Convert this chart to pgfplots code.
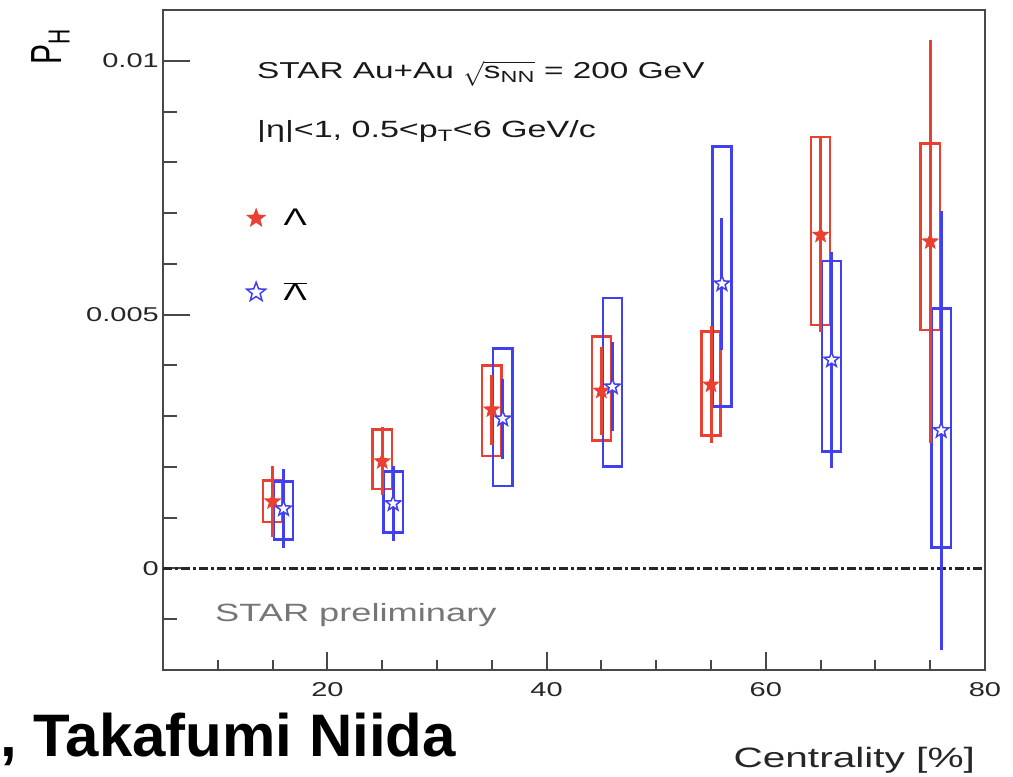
\documentclass[border=0pt]{standalone}
\usepackage{graphicx}
\usepackage{pgfplots}
\pgfplotsset{compat=1.18}
\usepackage{pgfplotstable}
\usepackage{fontspec}
\setmainfont{Liberation Sans}[FakeStretch=1.45]
\newfontfamily\plainsans{Liberation Sans}

\definecolor{lamred}{RGB}{234,64,50}
\definecolor{lamblue}{RGB}{64,64,242}
\definecolor{framegray}{RGB}{72,72,72}
\definecolor{prelimgray}{RGB}{118,118,118}

% five-pointed star plot mark
\pgfdeclareplotmark{starfive}{%
  \pgfpathmoveto{\pgfpointpolar{90}{\pgfplotmarksize}}%
  \pgfpathlineto{\pgfpointpolar{126}{0.42\pgfplotmarksize}}%
  \pgfpathlineto{\pgfpointpolar{162}{\pgfplotmarksize}}%
  \pgfpathlineto{\pgfpointpolar{198}{0.42\pgfplotmarksize}}%
  \pgfpathlineto{\pgfpointpolar{234}{\pgfplotmarksize}}%
  \pgfpathlineto{\pgfpointpolar{270}{0.42\pgfplotmarksize}}%
  \pgfpathlineto{\pgfpointpolar{306}{\pgfplotmarksize}}%
  \pgfpathlineto{\pgfpointpolar{342}{0.42\pgfplotmarksize}}%
  \pgfpathlineto{\pgfpointpolar{18}{\pgfplotmarksize}}%
  \pgfpathlineto{\pgfpointpolar{54}{0.42\pgfplotmarksize}}%
  \pgfpathclose
  \pgfusepathqfillstroke
}

% Lambda: centrality, P_H, stat. error, syst. band low/high
\pgfplotstableread{
x   y        stat     slo      shi
15  0.00132  0.00070  0.00091  0.00173
25  0.00211  0.00067  0.00156  0.00274
35  0.00313  0.00069  0.00222  0.00400
45  0.00350  0.00087  0.00252  0.00457
55  0.00362  0.00115  0.00262  0.00467
65  0.00657  0.00191  0.00480  0.00850
75  0.00644  0.00396  0.00470  0.00837
}\lambdadata

% anti-Lambda (shifted by +1 in centrality for visibility)
\pgfplotstableread{
x   y        stat     slo      shi
16  0.00118  0.00078  0.00057  0.00171
26  0.00128  0.00074  0.00071  0.00191
36  0.00295  0.00079  0.00163  0.00433
46  0.00358  0.00088  0.00201  0.00533
56  0.00561  0.00130  0.00319  0.00831
66  0.00411  0.00213  0.00230  0.00606
76  0.00272  0.00433  0.00041  0.00512
}\antilambdadata

\pgfplotsset{
  systred/.style={lamred, line width=2.4pt, forget plot},
  systblue/.style={lamblue, line width=2.4pt, forget plot},
}

% open rectangles for the systematic uncertainties, one per table row
\newcommand\systboxes[2]{%
  \pgfplotstablegetrowsof{#1}%
  \pgfmathtruncatemacro\lastrow{\pgfplotsretval-1}%
  \pgfplotsforeachungrouped \boxrow in {0,...,\lastrow}{%
    \pgfplotstablegetelem{\boxrow}{x}\of{#1}%
    \pgfmathsetmacro\boxleft{\pgfplotsretval-0.88}%
    \pgfmathsetmacro\boxright{\pgfplotsretval+0.88}%
    \pgfplotstablegetelem{\boxrow}{slo}\of{#1}\let\boxlow\pgfplotsretval
    \pgfplotstablegetelem{\boxrow}{shi}\of{#1}\let\boxhigh\pgfplotsretval
    \edef\drawbox{\noexpand\addplot[#2] coordinates
      {(\boxleft,\boxlow) (\boxright,\boxlow) (\boxright,\boxhigh) (\boxleft,\boxhigh)} -- cycle;}%
    \drawbox
  }%
}

\begin{document}
\begin{tikzpicture}
\useasboundingbox (0pt,0pt) rectangle (1013pt,777pt);

\begin{axis}[
  at={(163pt,107pt)}, anchor=south west,
  scale only axis, width=822pt, height=660pt,
  xmin=5, xmax=80, ymin=-0.002, ymax=0.011,
  axis line style={framegray, line width=2.5pt},
  tick align=inside,
  tick style={framegray, line width=2pt},
  /pgf/number format/assume math mode=true,
  xtick={20,40,60,80},
  minor xtick={10,15,25,30,35,45,50,55,65,70,75},
  ytick=\empty, xtick pos=left,
  major tick length=18pt, minor tick length=10pt,
  xticklabel style={font=\fontsize{20}{24}\selectfont, color=black!85, yshift=-9pt},
  xlabel={Centrality [\%]},
  xlabel style={at={(axis description cs:0.988,0)}, anchor=east, inner sep=0pt,
    yshift=-90pt, font=\fontsize{28}{32}\selectfont, color=black!85},
  ylabel={\plainsans\fontsize{30}{34}\selectfont\scalebox{1}[1.45]{P\textsubscript{H}}},
  ylabel style={at={(axis description cs:-0.137,0.944)}, anchor=center, inner sep=0pt},
  legend style={draw=none, fill=none, at={(axis description cs:0.1015,0.7014)},
    anchor=north west, font=\fontsize{24}{28}\selectfont, row sep=51pt,
    column sep=16pt, inner sep=0pt},
  legend cell align=left,
]
% y ticks: long at the labelled values, short every 0.001
\pgfplotsinvokeforeach{0,0.005,0.01}{%
  \draw[framegray, line width=2pt] (axis cs:5,#1) -- ++(27pt,0pt);}
\pgfplotsinvokeforeach{-0.001,0.001,0.002,0.003,0.004,0.006,0.007,0.008,0.009}{%
  \draw[framegray, line width=2pt] (axis cs:5,#1) -- ++(14pt,0pt);}

\addplot[black!85, line width=2.5pt, dash pattern=on 9pt off 3pt on 3pt off 3pt, forget plot]
  coordinates {(5,0) (80,0)};

\systboxes{\lambdadata}{systred}
\systboxes{\antilambdadata}{systblue}

\addplot[lamred, only marks, mark=starfive, mark size=8pt,
  mark options={line width=1pt, fill=lamred}, forget plot,
  error bars/.cd, y dir=both, y explicit, error mark=none,
  error bar style={line width=3pt, lamred}]
  table[x=x, y=y, y error=stat] {\lambdadata};

\addplot[lamblue, only marks, mark=starfive, mark size=8pt,
  mark options={line width=1.5pt, draw=lamblue, fill=white}, forget plot,
  error bars/.cd, y dir=both, y explicit, error mark=none,
  error bar style={line width=3pt, lamblue}]
  table[x=x, y=y, y error=stat] {\antilambdadata};

\addlegendimage{only marks, mark=starfive, mark size=10pt, lamred, mark options={fill=lamred}}
\addlegendentry{Λ}
\addlegendimage{only marks, mark=starfive, mark size=10pt, lamblue, mark options={line width=1.5pt, fill=white}}
\addlegendentry{$\overline{\mbox{Λ}}$}
\end{axis}

% y tick values, right-aligned against the frame
\begin{scope}[every node/.style={anchor=east, inner sep=0pt,
    font=\fontsize{20}{24}\selectfont, text=black!85}]
  \node at (159pt,716.2pt) {0.01};
  \node at (159pt,462.4pt) {0.005};
  \node at (159pt,208.5pt) {0};
\end{scope}

\node[anchor=base west, inner sep=0pt, font=\fontsize{23}{27}\selectfont, color=black!90]
  at (257pt,698pt) {STAR Au+Au $\sqrt{\mbox{s\textsubscript{NN}}}$ = 200 GeV};
\node[anchor=base west, inner sep=0pt, font=\fontsize{23.5}{27}\selectfont, color=black!90]
  at (257pt,639pt) {|η|<1, 0.5<p\textsubscript{T}<6 GeV/c};
\node[anchor=base west, inner sep=0pt, font=\fontsize{25}{29}\selectfont, color=prelimgray]
  at (215pt,155pt) {STAR preliminary};
\node[anchor=base west, inner sep=0pt]
  at (0pt,20pt) {\plainsans\bfseries\fontsize{60}{72}\selectfont , Takafumi Niida};
\end{tikzpicture}
\end{document}
